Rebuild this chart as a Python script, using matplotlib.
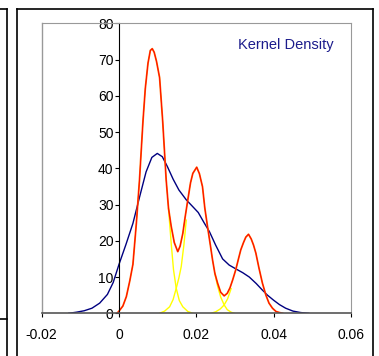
import matplotlib.pyplot as plt
from matplotlib.lines import Line2D

plt.rcParams['font.family'] = ['Liberation Sans', 'DejaVu Sans']

# kernel density (blue)
kd_x = [-0.0130, -0.0110, -0.0090, -0.0070, -0.0050, -0.0030, -0.0015, 0.0000,
        0.0018, 0.0036, 0.0053, 0.0070, 0.0085, 0.0099, 0.0112, 0.0125, 0.0140,
        0.0155, 0.0174, 0.0190, 0.0205, 0.0220, 0.0234, 0.0250, 0.0268, 0.0285,
        0.0303, 0.0320, 0.0337, 0.0355, 0.0370, 0.0384, 0.0400, 0.0415, 0.0431,
        0.0450, 0.0470, 0.0491]
kd_y = [0, 0.3, 0.7, 1.4, 2.8, 5.2, 8.5, 13.5,
        19, 24.8, 32, 39, 43, 44.1, 43.2, 40.5, 37,
        34, 31.3, 29.5, 27.8, 25, 22.5, 18.8, 15, 13.3,
        12.2, 11.2, 10, 8.2, 6.5, 5, 3.6, 2.4, 1.4,
        0.6, 0.2, 0]

# mixture density (red)
mix_x = [-0.0005, 0.0000, 0.0010, 0.0019, 0.0028, 0.0036, 0.0045, 0.0053, 0.0062,
         0.0068, 0.0075, 0.0081, 0.0086, 0.0091, 0.0097, 0.0105, 0.0113, 0.0122,
         0.0128, 0.0135, 0.0143, 0.0152, 0.0158, 0.0165, 0.0171, 0.0178, 0.0185,
         0.0191, 0.0201, 0.0208, 0.0216, 0.0222, 0.0229, 0.0236, 0.0242, 0.0248,
         0.0255, 0.0263, 0.0272, 0.0280, 0.0287, 0.0294, 0.0302, 0.0309, 0.0315,
         0.0322, 0.0328, 0.0335, 0.0342, 0.0348, 0.0354, 0.0362, 0.0371, 0.0380,
         0.0388, 0.0397, 0.0406, 0.0415, 0.0423]
mix_y = [0, 0.6, 2, 4.6, 9, 13.5, 25, 36.8, 53,
         62, 69, 72.5, 73, 72, 69.5, 65, 53, 36.8,
         29, 24, 19.5, 17, 18.5, 22, 26.5, 31.3, 36,
         38.6, 40.3, 38.5, 34.9, 29, 23.9, 19, 14.7, 11,
         8.3, 5.8, 4.8, 5.5, 7, 9.2, 12, 15, 17.5,
         19.5, 21, 21.8, 20.5, 18.8, 16.6, 12.5, 8.3, 5,
         2.8, 1.4, 0.5, 0.2, 0]

# component tails (yellow)
c1_x = [0.0128, 0.0135, 0.0141, 0.0148, 0.0156, 0.0165, 0.0178, 0.0191]
c1_y = [29, 19.3, 12, 6.9, 3.5, 1.8, 0.5, 0]
c2a_x = [0.0105, 0.0118, 0.0131, 0.0140, 0.0148, 0.0155, 0.0161, 0.0168, 0.0174]
c2a_y = [0, 0.6, 1.8, 3.8, 6.9, 9.8, 12.9, 19, 25.7]
c2b_x = [0.0248, 0.0255, 0.0263, 0.0272, 0.0280, 0.0290, 0.0298]
c2b_y = [11, 7.5, 4.5, 2.3, 1.0, 0.3, 0]
c3_x = [0.0238, 0.0250, 0.0262, 0.0272, 0.0281, 0.0290]
c3_y = [0, 0.4, 1.2, 2.3, 4, 6.8]

x_ticks = [-0.02, 0, 0.02, 0.04, 0.06]
x_labels = ['-0.02', '0', '0.02', '0.04', '0.06']
y_ticks = [0, 10, 20, 30, 40, 50, 60, 70, 80]

fig = plt.figure(figsize=(3.79, 3.56), dpi=100)
ax = fig.add_axes([0.110, 0.120, 0.816, 0.8146])

for xs, ys in [(c1_x, c1_y), (c2a_x, c2a_y), (c2b_x, c2b_y), (c3_x, c3_y)]:
    ax.plot(xs, ys, color='#ffff00', lw=1.0)
ax.plot(kd_x, kd_y, color='#000080', lw=1.0)
ax.plot(mix_x, mix_y, color='#ff6600', lw=1.3)
ax.plot(mix_x, mix_y, color='#ff0000', lw=0.6)

ax.set_xlim(-0.02, 0.06)
ax.set_ylim(0, 80)
ax.set_xticks(x_ticks)
ax.set_xticklabels(x_labels)
ax.set_yticks(y_ticks)

for s in ['top', 'right']:
    ax.spines[s].set_color('#999999')
ax.spines['left'].set_position(('data', 0))
ax.spines['left'].set_color('#000000')
ax.spines['bottom'].set_color('#555555')
ax.spines['bottom'].set_linewidth(1.2)
ax.axvline(-0.02, color='#999999', lw=1.0, clip_on=False)

ax.tick_params(axis='x', direction='out', length=3, pad=7.5, labelsize=10, colors='#000000')
ax.tick_params(axis='y', direction='out', length=3, pad=1, labelsize=10)

ax.text(0.0555, 74, 'Kernel Density', color='#1c1c8c', fontsize=10.5, ha='right', va='center')

# chart borders
lines = [
    ([0.044, 0.044], [0.0, 0.974]),
    ([0.044, 0.985], [0.974, 0.974]),
    ([0.985, 0.985], [0.0, 0.974]),
    ([0.0177, 0.0177], [0.0, 0.974]),
    ([0.0, 0.0177], [0.974, 0.974]),
    ([0.0, 0.0177], [0.104, 0.104]),
]
for lx, ly in lines:
    fig.add_artist(Line2D(lx, ly, color='#000000', lw=1.2, transform=fig.transFigure))

fig.savefig('out.png', dpi=100)
